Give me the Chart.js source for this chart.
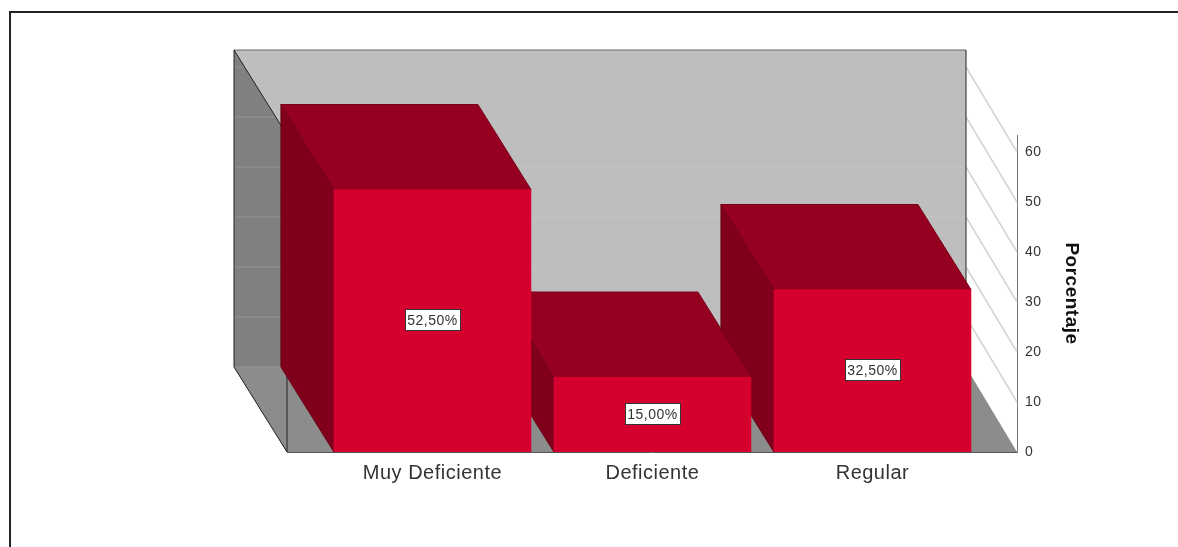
<!DOCTYPE html>
<html>
<head>
<meta charset="utf-8">
<title>Porcentaje</title>
<script src="https://cdn.jsdelivr.net/npm/chart.js@4"></script>
<style>
    body { margin: 0; background: #fff; }
    canvas { display: block; }
</style>
</head>
<body>
<canvas id="chart" width="1178" height="547"></canvas>
<script>
var categories = ["Muy Deficiente", "Deficiente", "Regular"];
var values = [52.5, 15, 32.5];
var yTicks = [0, 10, 20, 30, 40, 50, 60];

// depth of the fake 3d box, in pixels
var depthX = 53;
var depthY = 85;

var fontName = '"Liberation Sans", Arial, sans-serif';

function poly(ctx, pts, fill, stroke) {
    ctx.beginPath();
    ctx.moveTo(pts[0][0], pts[0][1]);
    for (var i = 1; i < pts.length; i++) {
        ctx.lineTo(pts[i][0], pts[i][1]);
    }
    ctx.closePath();
    if (fill) {
        ctx.fillStyle = fill;
        ctx.fill();
    }
    if (stroke) {
        ctx.strokeStyle = stroke;
        ctx.lineWidth = 1;
        ctx.stroke();
    }
}

function line(ctx, x1, y1, x2, y2, color, width) {
    ctx.beginPath();
    ctx.moveTo(x1, y1);
    ctx.lineTo(x2, y2);
    ctx.strokeStyle = color;
    ctx.lineWidth = width || 1;
    ctx.stroke();
}

// frame, walls, floor and the sides of the bars
var boxPlugin = {
    id: "box",
    beforeDraw: function(chart) {
        var ctx = chart.ctx;
        ctx.letterSpacing = "0.5px";
        line(ctx, 9, 12, 1178, 12, "#222", 2);
        line(ctx, 10, 11, 10, 547, "#222", 2);
    },
    beforeDatasetsDraw: function(chart) {
        var ctx = chart.ctx;
        var a = chart.chartArea;
        var yScale = chart.scales.y;
        var backL = a.left - depthX;
        var backR = a.right - depthX + 2;
        var backT = a.top - depthY;
        var backB = a.bottom - depthY;

        poly(ctx, [[backL, backT], [backR, backT], [backR, backB], [backL, backB]], "#bebebe");

        // back wall lines go under the side wall
        yTicks.forEach(function(t) {
            var by = yScale.getPixelForValue(t) - depthY;
            line(ctx, backL, by, backR, by, "#c4c4c4");
        });

        poly(ctx, [[backL, backT], [a.left, a.top], [a.left, a.bottom], [backL, backB]], "#808080");
        poly(ctx, [[backL, backB], [backR, backB], [a.right, a.bottom], [a.left, a.bottom]], "#8c8c8c");

        yTicks.forEach(function(t) {
            var py = yScale.getPixelForValue(t);
            var by = py - depthY;
            var wallX = Math.min(a.left, backL + (by - backT) / depthY * depthX);
            line(ctx, backL, by, wallX, by, "#949494");
            if (t > 0) {
                line(ctx, backR, by, a.right, py, "#d4d4d4", 1.5);
            }
        });

        line(ctx, backL, backT, backR, backT, "#666");
        line(ctx, backR, backT, backR, backB, "#222");
        line(ctx, backL, backT, backL, backB, "#222");
        line(ctx, backL, backT, a.left, a.top, "#222");
        line(ctx, backL, backB, a.left, a.bottom, "#222");
        line(ctx, a.left, backB, a.left, a.bottom, "#222");

        // back to front so the nearer bar covers the one behind it
        var bars = chart.getDatasetMeta(0).data;
        for (var i = bars.length - 1; i >= 0; i--) {
            var b = bars[i];
            var l = b.x - b.width / 2;
            var r = b.x + b.width / 2;
            poly(ctx, [[l - depthX, b.y - depthY], [l, b.y], [l, b.base], [l - depthX, b.base - depthY]], "#80001c", "#6a0016");
            poly(ctx, [[l - depthX, b.y - depthY], [r - depthX, b.y - depthY], [r, b.y], [l, b.y]], "#960020", "#7a001a");
        }
    },
    afterDatasetsDraw: function(chart) {
        var ctx = chart.ctx;
        var bars = chart.getDatasetMeta(0).data;
        ctx.save();
        ctx.font = "14px " + fontName;
        ctx.textAlign = "center";
        ctx.textBaseline = "middle";
        for (var i = 0; i < bars.length; i++) {
            var text = values[i].toFixed(2).replace(".", ",") + "%";
            var cy = Math.round((bars[i].y + bars[i].base) / 2 - 1);
            var w = Math.round(ctx.measureText(text).width + 5);
            var bx = Math.round(bars[i].x - w / 2) + 0.5;
            ctx.fillStyle = "#fff";
            ctx.fillRect(bx, cy - 10.5, w, 21);
            ctx.strokeStyle = "#333";
            ctx.lineWidth = 1;
            ctx.strokeRect(bx, cy - 10.5, w, 21);
            ctx.fillStyle = "#333";
            ctx.fillText(text, bars[i].x, cy + 1);
        }
        ctx.restore();
    }
};

new Chart(document.getElementById("chart"), {
    type: "bar",
    data: {
        datasets: [{
            label: "Porcentaje",
            data: values.map(function(v, i) { return { x: i + 1, y: v }; }),
            backgroundColor: "#d5002e",
            barThickness: 197
        }]
    },
    options: {
        responsive: false,
        animation: false,
        layout: { padding: { left: 287, top: 135, right: 95, bottom: 0 } },
        plugins: { legend: { display: false }, tooltip: { enabled: false } },
        scales: {
            x: {
                type: "linear",
                offset: false,
                min: 0.339,
                max: 3.657,
                grid: { display: false, drawTicks: false },
                border: { color: "#555" },
                afterBuildTicks: function(scale) {
                    scale.ticks = categories.map(function(c, i) { return { value: i + 1 }; });
                },
                afterFit: function(scale) { scale.height = 95; },
                ticks: {
                    autoSkip: false,
                    maxRotation: 0,
                    padding: 9,
                    color: "#333",
                    font: { family: fontName, size: 20 },
                    callback: function(v) { return categories[v - 1]; }
                }
            },
            y: {
                position: "right",
                min: 0,
                max: 63.4,
                grid: { display: false, drawTicks: false },
                border: { color: "#777" },
                afterFit: function(scale) { scale.width = 66; },
                afterBuildTicks: function(scale) {
                    scale.ticks = yTicks.map(function(t) { return { value: t }; });
                },
                ticks: {
                    padding: 8,
                    color: "#333",
                    font: { family: fontName, size: 14 }
                },
                title: {
                    display: true,
                    text: "Porcentaje",
                    color: "#111",
                    padding: 0,
                    font: { family: fontName, size: 19, weight: "bold" }
                }
            }
        }
    },
    plugins: [boxPlugin]
});
</script>
</body>
</html>
